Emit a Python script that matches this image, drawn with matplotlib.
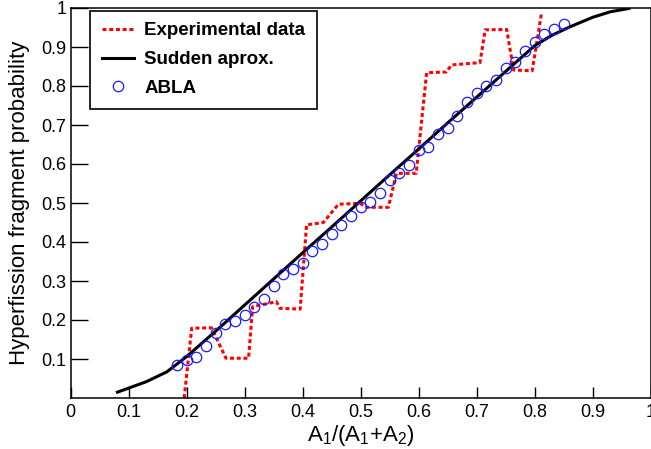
import matplotlib.pyplot as plt

plt.rcParams['font.family'] = ['Liberation Sans', 'DejaVu Sans']
plt.rcParams['mathtext.fontset'] = 'custom'
plt.rcParams['mathtext.rm'] = 'Liberation Sans'

# Experimental data (red dotted steps)
exp_x = [0.196, 0.209, 0.243, 0.268, 0.307, 0.314, 0.355, 0.361, 0.396, 0.407, 0.436,
         0.462, 0.50, 0.508, 0.548, 0.562, 0.596, 0.614, 0.648, 0.657, 0.706, 0.715,
         0.752, 0.764, 0.796, 0.812]
exp_y = [0.0, 0.179, 0.180, 0.102, 0.102, 0.234, 0.247, 0.230, 0.228, 0.444, 0.450,
         0.497, 0.499, 0.489, 0.489, 0.576, 0.576, 0.834, 0.836, 0.854, 0.860, 0.944,
         0.945, 0.841, 0.839, 0.986]

# Sudden approximation (black curve)
sud_x = [0.081, 0.131, 0.166, 0.2, 0.25, 0.3, 0.35, 0.4, 0.45, 0.5, 0.55, 0.6, 0.65,
         0.7, 0.75, 0.8, 0.83, 0.86, 0.9, 0.93, 0.963]
sud_y = [0.015, 0.042, 0.067, 0.106, 0.171, 0.238, 0.305, 0.372, 0.438, 0.505, 0.572,
         0.638, 0.705, 0.771, 0.837, 0.903, 0.93, 0.951, 0.976, 0.99, 0.999]

# ABLA (blue circles)
abla_x = [0.183, 0.200, 0.217, 0.233, 0.250, 0.267, 0.283, 0.300, 0.317, 0.333,
          0.350, 0.367, 0.383, 0.400, 0.417, 0.433, 0.450, 0.467, 0.483, 0.500,
          0.517, 0.533, 0.550, 0.567, 0.583, 0.600, 0.617, 0.633, 0.650, 0.667,
          0.683, 0.700, 0.717, 0.733, 0.750, 0.767, 0.783, 0.800, 0.817, 0.833, 0.850]
abla_y = [0.085, 0.097, 0.104, 0.133, 0.167, 0.189, 0.197, 0.214, 0.234, 0.255,
          0.287, 0.318, 0.331, 0.345, 0.377, 0.394, 0.420, 0.444, 0.467, 0.489,
          0.503, 0.526, 0.559, 0.578, 0.597, 0.636, 0.644, 0.677, 0.692, 0.724,
          0.759, 0.781, 0.800, 0.815, 0.845, 0.862, 0.890, 0.912, 0.933, 0.946, 0.958]

xticks = [0, 0.1, 0.2, 0.3, 0.4, 0.5, 0.6, 0.7, 0.8, 0.9, 1]
yticks = [0.1, 0.2, 0.3, 0.4, 0.5, 0.6, 0.7, 0.8, 0.9, 1]

fig = plt.figure(figsize=(6.51, 4.49), dpi=100)
ax = fig.add_axes([70.5 / 651, 51 / 449, 580 / 651, 390 / 449])

ax.plot(exp_x, exp_y, color='red', lw=2.2, dashes=(1.3, 0.9), label='Experimental data')
ax.plot(sud_x, sud_y, color='black', lw=2.2, label='Sudden aprox.')
ax.plot(abla_x, abla_y, ls='none', marker='o', ms=7.5, mfc='none', mec='#1a1aff',
        mew=0.9, label='ABLA')

ax.set_xlim(0, 1)
ax.set_ylim(0, 1)
ax.set_xticks(xticks)
ax.set_yticks(yticks)
ax.set_xticklabels(['%g' % t for t in xticks])
ax.set_yticklabels(['%g' % t for t in yticks])
ax.tick_params(axis='both', direction='in', labelsize=13, width=1)
ax.tick_params(axis='y', length=12, pad=3)
ax.tick_params(axis='x', length=8, pad=4)
for s in ax.spines.values():
    s.set_linewidth(1.1)

ax.set_xlabel(r'A$_1$/(A$_1$+A$_2$)', fontsize=16, labelpad=2)
ax.set_ylabel('Hyperfission fragment probability', fontsize=16, labelpad=8)

leg = ax.legend(loc='upper left', bbox_to_anchor=(0.034, 0.993), borderaxespad=0,
                prop={'weight': 'bold', 'size': 13.5}, frameon=True, fancybox=False,
                edgecolor='black', framealpha=1, handlelength=1.7, handletextpad=0.55,
                labelspacing=0.62, borderpad=0.62)
leg.get_frame().set_linewidth(1.2)

plt.savefig('out.png', dpi=100)
